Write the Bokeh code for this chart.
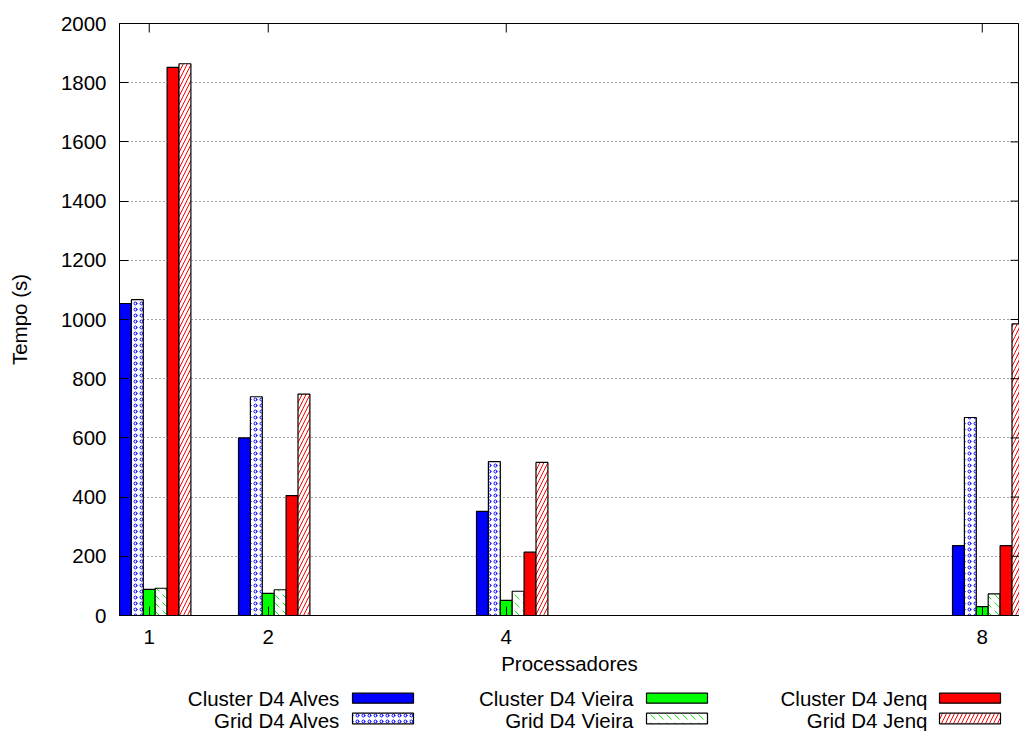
from bokeh.plotting import figure
from bokeh.models import Range1d, FixedTicker, ColumnDataSource
from bokeh.layouts import column
from bokeh.core.properties import value
from bokeh.embed import file_html
from bokeh.resources import INLINE

# ---- data ----
procs = [1, 2, 4, 8]
cluster_alves = [1054, 600, 352, 236]
grid_alves = [1067, 739, 520, 669]
cluster_vieira = [88, 75, 51, 30]
grid_vieira = [92, 87, 82, 73]
cluster_jenq = [1852, 405, 214, 236]
grid_jenq = [1864, 748, 517, 985]
series_names = ["Cluster D4 Alves", "Grid D4 Alves", "Cluster D4 Vieira",
                "Grid D4 Vieira", "Cluster D4 Jenq", "Grid D4 Jenq"]
y_ticks = list(range(0, 2001, 200))

FONT = value("Liberation Sans")
FS = "20.5px"

W, H = 1019, 688
ML, MT, MB = 119, 23, 73
X0 = 0.75
px_per_x = 119.0
X1 = X0 + (W - ML) / px_per_x
Y0, Y1 = 0, 2000
px_per_y = (H - MT - MB) / (Y1 - Y0)

p = figure(width=W, height=H, x_range=Range1d(X0, X1), y_range=Range1d(Y0, Y1),
           output_backend="svg", toolbar_location=None,
           min_border_left=ML, min_border_right=0, min_border_top=MT,
           min_border_bottom=MB)
p.background_fill_color = "white"
p.border_fill_color = "white"
p.outline_line_color = "black"
p.outline_line_width = 1

p.xgrid.visible = False
p.ygrid.ticker = FixedTicker(ticks=y_ticks[1:-1])
p.ygrid.grid_line_color = "#444444"
p.ygrid.grid_line_dash = "1 3"
p.ygrid.grid_line_width = 1

p.xaxis.ticker = FixedTicker(ticks=procs)
p.yaxis.ticker = FixedTicker(ticks=y_ticks)
for ax in (p.xaxis[0], p.yaxis[0]):
    ax.major_tick_in = 9
    ax.major_tick_out = 0
    ax.minor_tick_line_color = None
    ax.axis_line_color = "black"
    ax.major_tick_line_color = "black"
    ax.major_label_text_font = "Liberation Sans"
    ax.major_label_text_font_size = FS
    ax.major_label_text_color = "black"
    ax.axis_label_text_font = "Liberation Sans"
    ax.axis_label_text_font_size = FS
    ax.axis_label_text_font_style = "normal"
    ax.axis_label_text_color = "black"
p.xaxis.axis_label = "Processadores"
p.yaxis.axis_label = "Tempo (s)"
p.xaxis.major_label_standoff = 14
p.xaxis.axis_label_standoff = 5
p.yaxis.major_label_standoff = 13
p.yaxis.axis_label_standoff = 27

offsets = [-0.2, -0.1, 0.0, 0.1, 0.2, 0.3]
bw = 0.1
series = [cluster_alves, grid_alves, cluster_vieira, grid_vieira, cluster_jenq, grid_jenq]
styles = [
    dict(fill_color="#0000ff"),
    dict(fill_color="white", hatch_pattern="ring", hatch_color="#0000ff", hatch_scale=6, hatch_weight=1),
    dict(fill_color="#00ff00"),
    dict(fill_color="white", hatch_pattern="left_diagonal_dash", hatch_color="#00ee00", hatch_scale=8, hatch_weight=1),
    dict(fill_color="#ff0000"),
    dict(fill_color="white", hatch_pattern="right_diagonal_line", hatch_color="#ff0000", hatch_scale=8, hatch_weight=1),
]
for vals, off, st in zip(series, offsets, styles):
    src = ColumnDataSource(dict(x=[v + off for v in procs], top=vals))
    p.vbar(x="x", top="top", bottom=0, width=bw, source=src,
           line_color="black", line_width=1.2, **st)

# mirror ticks (top and right), as gnuplot draws them
tl_y = 9 / px_per_y
tl_x = 9 / px_per_x
p.segment(x0=procs, x1=procs, y0=[Y1] * len(procs), y1=[Y1 - tl_y] * len(procs),
          line_color="black", line_width=1)
p.segment(x0=[X1 - tl_x] * len(y_ticks), x1=[X1] * len(y_ticks), y0=y_ticks, y1=y_ticks,
          line_color="black", line_width=1)

# ---- legend (gnuplot style: text then swatch) ----
# frames of the column are aligned, so use the same left border; x in page pixels
LH = 731 - H
lg = figure(width=W, height=LH, x_range=Range1d(ML, W), y_range=Range1d(LH, 0),
            output_backend="svg", toolbar_location=None,
            min_border_left=ML, min_border_right=0, min_border_top=0, min_border_bottom=0)
lg.axis.visible = False
lg.grid.visible = False
lg.outline_line_color = None
lg.background_fill_color = "white"
lg.border_fill_color = "white"

col_text_right = [340, 633, 927]
col_sw_left = [352, 646, 939]
sw_w = 61
row_text_y = [10, 31.5]
row_sw = [(4.7, 14.7), (24.7, 35.3)]
for i, (name, st) in enumerate(zip(series_names, styles)):
    c, r = i // 2, i % 2
    lg.text(x=[col_text_right[c]], y=[row_text_y[r]], text=[name], text_align="right",
            text_baseline="middle", text_font=FONT, text_font_size=FS, text_color="black")
    lg.quad(left=[col_sw_left[c]], right=[col_sw_left[c] + sw_w],
            top=[row_sw[r][0]], bottom=[row_sw[r][1]],
            line_color="black", line_width=1.2, **st)

layout = column(p, lg, spacing=0)
open("out.html", "w").write(file_html(layout, INLINE))
